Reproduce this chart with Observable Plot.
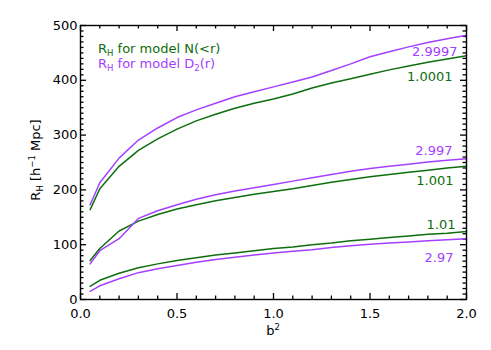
<!DOCTYPE html>
<html><head><meta charset="utf-8">
<script src="https://cdn.jsdelivr.net/npm/d3@7"></script>
<script src="https://cdn.jsdelivr.net/npm/@observablehq/plot@0.6"></script>
<style>body{margin:0;background:#fff} svg{display:block}</style>
</head><body><div id="chart"></div>
<script>
// x values (b^2)
const b2 = [0.05,0.1,0.2,0.3,0.4,0.5,0.6,0.7,0.8,0.9,1.0,1.1,1.2,1.3,1.4,1.5,1.6,1.7,1.8,1.9,2.0];
// R_H for model N(<r)  (green)
const nTop = [164,202,243,272,293,311,326,338,349,358,366,375,386,395,403,411,419,426,433,439,445];
const nMid = [71,93,125,143,155,165,173,180,186,192,197,202,208,214,219,224,228,232,236,240,243];
const nLow = [24,35,48,58,65,71,76,81,85,89,93,96,100,103,107,110,113,116,119,121,124];
// R_H for model D2(r)  (purple)
const dTop = [173,213,258,291,313,332,346,358,370,379,388,397,406,418,430,443,452,461,469,476,482];
const dMid = [65,89,111,148,162,173,183,191,198,204,210,216,222,228,234,239,243,247,251,254,257];
const dLow = [15,25,38,49,56,62,68,73,77,81,85,88,91,95,98,101,103,105,107,109,111];
// curve labels
const labelsN = ["1.0001","1.001","1.01"];
const labelsD = ["2.9997","2.997","2.97"];
// tick values
const xMajor = [0,0.5,1.0,1.5,2.0];
const xMinor = [0.1,0.2,0.3,0.4,0.6,0.7,0.8,0.9,1.1,1.2,1.3,1.4,1.6,1.7,1.8,1.9];
const yMajor = [0,100,200,300,400,500];
const yMinor = d3.range(0,501,10).filter(v => v % 100 !== 0);

const GREEN = "#0e6e0e";
const PURPLE = "#a440ff";
const FONT = "DejaVu Sans, sans-serif";

const W = 491, H = 350, ML = 80, MR = 25, MT = 25, MB = 51;
const FW = W - ML - MR, FH = H - MT - MB;
const MAJ = 6, MIN = 3.5;

const toRows = vals => b2.map((x,i) => ({x, y: vals[i]}));
const lineMark = (vals, color) => Plot.line(toRows(vals), {x:"x", y:"y", stroke: color, strokeWidth: 1.5});
const endLabel = (vals, text, color, dx, dy) =>
  Plot.text([{x: b2[b2.length-1], y: vals[vals.length-1], t: text}],
    {x:"x", y:"y", text:"t", fill: color, textAnchor:"end", dx, dy, fontSize: 13});
const xTicks = (vals, len) => [
  Plot.tickX(vals, {x: d => d, insetTop: FH - len, stroke: "black", strokeWidth: 1.3}),
  Plot.tickX(vals, {x: d => d, insetBottom: FH - len, stroke: "black", strokeWidth: 1.3})
];
const yTicks = (vals, len) => [
  Plot.tickY(vals, {y: d => d, insetRight: FW - len, stroke: "black", strokeWidth: 1.3}),
  Plot.tickY(vals, {y: d => d, insetLeft: FW - len, stroke: "black", strokeWidth: 1.3})
];

const svg = Plot.plot({
  width: W, height: H,
  marginLeft: ML, marginRight: MR, marginTop: MT, marginBottom: MB,
  style: {fontFamily: FONT, fontSize: "13px", color: "black", background: "white"},
  x: {domain: [0, 2]},
  y: {domain: [0, 500]},
  marks: [
    Plot.axisX(xMajor, {anchor:"bottom", tickSize: 0, tickPadding: 9, tickFormat: d3.format(".1f"), label: null, fontSize: 13}),
    Plot.axisY(yMajor, {anchor:"left", tickSize: 0, tickPadding: 3, tickFormat: d => String(d), label: null, fontSize: 13}),
    ...xTicks(xMajor, MAJ), ...xTicks(xMinor, MIN),
    ...yTicks(yMajor, MAJ), ...yTicks(yMinor, MIN),
    lineMark(nTop, GREEN), lineMark(nMid, GREEN), lineMark(nLow, GREEN),
    lineMark(dTop, PURPLE), lineMark(dMid, PURPLE), lineMark(dLow, PURPLE),
    endLabel(dTop, labelsD[0], PURPLE, -9, 16),
    endLabel(nTop, labelsN[0], GREEN, -14, 21),
    endLabel(dMid, labelsD[1], PURPLE, -14, -8),
    endLabel(nMid, labelsN[1], GREEN, -13, 14),
    endLabel(nLow, labelsN[2], GREEN, -11, -7),
    endLabel(dLow, labelsD[2], PURPLE, -13, 19),
    Plot.frame({stroke: "black", strokeWidth: 1.4})
  ]
});

const s = d3.select(svg);
function rich(parent, parts, attrs) {
  const t = parent.append("text").attr("font-family", FONT).attr("font-size", 13).attr("text-anchor", "start");
  for (const [k,v] of Object.entries(attrs)) t.attr(k, v);
  let shift = 0;
  for (const p of parts) {
    const ts = t.append("tspan").text(p.t);
    const target = p.sub ? 3 : p.sup ? -5 : 0;
    if (target !== shift) { ts.attr("dy", target - shift); shift = target; }
    if (p.sub || p.sup) ts.attr("font-size", 8.5);
  }
  return t;
}
// Legend
rich(s, [{t:"R"},{t:"H",sub:true},{t:" for model N(<r)"}], {x: 98, y: 53, fill: GREEN});
rich(s, [{t:"R"},{t:"H",sub:true},{t:" for model D"},{t:"2",sub:true},{t:"(r)"}], {x: 98, y: 68, fill: PURPLE});
// Axis titles
rich(s, [{t:"R"},{t:"H",sub:true},{t:" [h"},{t:"−1",sup:true},{t:" Mpc]"}],
  {transform: "translate(40,160) rotate(-90)", "text-anchor": "middle", fill: "black"});
rich(s, [{t:"b"},{t:"2",sup:true}], {x: 273, y: 335, "text-anchor": "middle", fill: "black"});

document.getElementById("chart").appendChild(svg);
</script>
</body></html>
